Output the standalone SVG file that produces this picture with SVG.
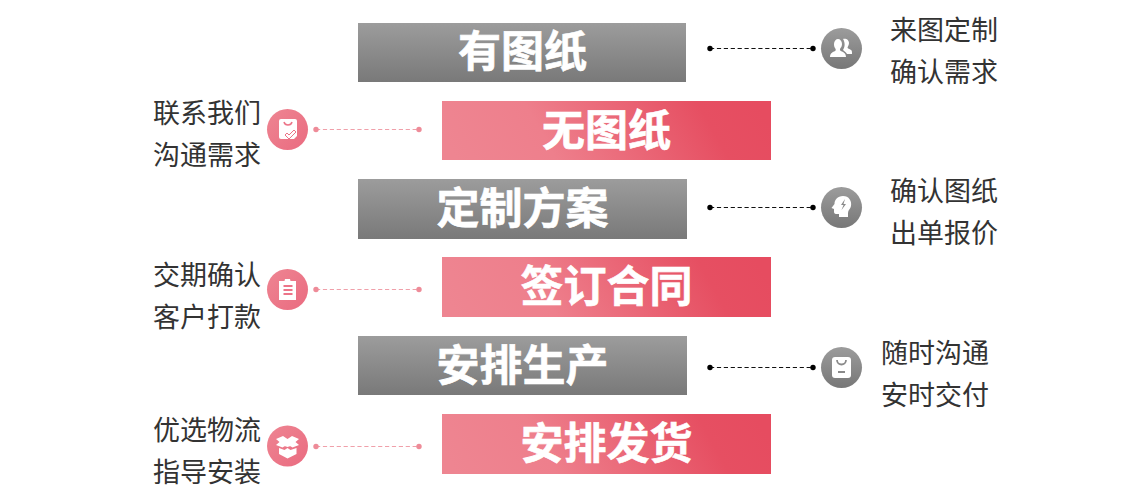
<svg xmlns="http://www.w3.org/2000/svg" width="1142" height="495" viewBox="0 0 1142 495">
<style>
text{font-family:"Noto Sans CJK SC","Liberation Sans",sans-serif}
.t{font-size:43px;font-weight:700;fill:#fff;text-anchor:middle;stroke:#fff;stroke-width:.6px}
.s{font-size:27px;fill:#333;font-weight:400}
.g{fill:url(#gg)}.r{fill:url(#rg)}
.cg{fill:url(#gc)}.cr{fill:url(#rc)}
.lg{stroke:#111;stroke-width:1.2;stroke-dasharray:4.200 2.700;fill:none}
.lr{stroke:#f0a0aa;stroke-width:1.200;stroke-dasharray:4.200 2.700;fill:none}
.dg{fill:#000}.dr{fill:#ee8b98}
.i{fill:#fff}
</style>
<defs>
<linearGradient id="gg" x1="0" y1="0" x2="0" y2="1"><stop offset="0" stop-color="#9c9c9c"/><stop offset="1" stop-color="#797979"/></linearGradient>
<linearGradient id="gc" x1="0" y1="0" x2="0" y2="1"><stop offset="0" stop-color="#9c9c9c"/><stop offset="1" stop-color="#777"/></linearGradient>
<linearGradient id="rg" x1="0" y1=".55" x2="1" y2=".45"><stop offset="0" stop-color="#ee8591"/><stop offset=".3" stop-color="#ee7f8c"/><stop offset=".82" stop-color="#e64f62"/><stop offset="1" stop-color="#e64c60"/></linearGradient>
<linearGradient id="rc" x1="0" y1="0" x2="1" y2="1"><stop offset="0" stop-color="#ee8592"/><stop offset="1" stop-color="#ea6b80"/></linearGradient>
</defs>
<g id="connectors">
<path class="lg" d="M710 48.500H813M710 207.500H813M710 367.500H813"/>
<path class="lr" d="M316 129.500H419M316 289.500H419M316 446.500H419"/>
<g class="dg"><circle cx="710" cy="48.500" r="2.700"/><circle cx="813" cy="48.500" r="2.700"/><circle cx="710" cy="207.500" r="2.700"/><circle cx="813" cy="207.500" r="2.700"/><circle cx="710" cy="367.500" r="2.700"/><circle cx="813" cy="367.500" r="2.700"/></g>
<g class="dr"><circle cx="316" cy="129.500" r="2.700"/><circle cx="419" cy="129.500" r="2.700"/><circle cx="316" cy="289.500" r="2.700"/><circle cx="419" cy="289.500" r="2.700"/><circle cx="316" cy="446.500" r="2.700"/><circle cx="419" cy="446.500" r="2.700"/></g>
</g>
<g id="n1"><rect class="g" x="358" y="23" width="328" height="59"/><text class="t" x="522.500" y="67">有图纸</text></g>
<g id="n2"><rect class="r" x="442" y="101" width="329" height="59"/><text class="t" x="606.500" y="146">无图纸</text></g>
<g id="n3"><rect class="g" x="358" y="179" width="329" height="60"/><text class="t" x="522.500" y="224">定制方案</text></g>
<g id="n4"><rect class="r" x="442" y="257" width="329" height="60"/><text class="t" x="606.500" y="302">签订合同</text></g>
<g id="n5"><rect class="g" x="358" y="336" width="329" height="59"/><text class="t" x="522.500" y="381">安排生产</text></g>
<g id="n6"><rect class="r" x="442" y="414" width="329" height="60"/><text class="t" x="606.500" y="459">安排发货</text></g>
<g id="a1"><circle class="cg" cx="841.500" cy="48.500" r="20.500"/><path class="i" d="M830 57c0-4 3-5 5-6 1-.5 1-1.500 0-3-1-1.500-1-3-1-4 0-3 2-5 4-5s4 2 4 5c0 1.500-.5 3-1.500 4-.8 1.500-.8 2.500.5 3 2 1 5 2 5 6zM843 39c2-1 6 0 6 4 0 2-1 3-1.500 4.500 0 1 2 1.500 3.500 2.500 1 .5 1 2 1 4h-5c-1-2-3-3-4-4 1-2 2-4 1.500-7-.2-1.500-.8-3-1.500-4z"/></g>
<g id="a2"><circle class="cg" cx="841.500" cy="207.500" r="20.500"/><path class="i" d="M843 196c6 0 9 5 8 10-.5 3-3 4-3 7v4h-9v-3h-3c-1.500 0-2-1-2-2.500V209l-2.500-1 3-4c0-4 3-8 8.500-8z"/><path fill="#8a8a8a" d="M845 199l-4 6h2.500l-2 5 4.500-6h-2.500z"/></g>
<g id="a3"><circle class="cg" cx="841.500" cy="367.500" r="20.500"/><rect class="i" x="832" y="357" width="19" height="21" rx="3"/><path fill="none" stroke="#8a8a8a" stroke-width="1.800" d="M837 360c0 6 9 6 9 0M838 372h7"/></g>
<g id="a4"><circle class="cr" cx="287.500" cy="129.500" r="20.500"/><path class="i" d="M281 119h14a2 2 0 0 1 2 2v15l-3 3h-13a2 2 0 0 1-2-2v-16a2 2 0 0 1 2-2z"/><path fill="none" stroke="#ec7488" stroke-width="1.500" d="M284 122c1 4 7 4 8 0"/><path fill="#fff" stroke="#ec7488" stroke-width="1" d="M285 135l2-2 2 2 5-5 2 2-7 7z"/></g>
<g id="a5"><circle class="cr" cx="287.500" cy="289.500" r="20.500"/><path class="i" d="M285 279h5l.5 2h5.500v19h-17v-19h5.500z"/><path stroke="#ec7488" stroke-width="1.800" d="M283.500 286h9M283.500 290h9M283.500 294h9"/></g>
<g id="a6"><circle class="cr" cx="287.500" cy="446" r="20.500"/><path class="i" d="M283 436l4.500 3 4.500-3 7 3-3.500 3 3.500 3-6.500 2.500-5-3-5 3-6.500-2.500 3.500-3-3.500-3zM287.500 443l6 2-6 2-6-2zM279 448l5.500 2 3-2 3 2 6-2v6l-9 4.500-8.500-4.500z"/></g>
<g id="l1"><text class="s" x="890" y="40">来图定制</text><text class="s" x="890" y="82">确认需求</text></g>
<g id="l2"><text class="s" x="153" y="123">联系我们</text><text class="s" x="153" y="165">沟通需求</text></g>
<g id="l3"><text class="s" x="890" y="201">确认图纸</text><text class="s" x="890" y="243">出单报价</text></g>
<g id="l4"><text class="s" x="153" y="285">交期确认</text><text class="s" x="153" y="327">客户打款</text></g>
<g id="l5"><text class="s" x="881" y="363">随时沟通</text><text class="s" x="881" y="405">安时交付</text></g>
<g id="l6"><text class="s" x="153" y="440">优选物流</text><text class="s" x="153" y="482">指导安装</text></g>
</svg>
